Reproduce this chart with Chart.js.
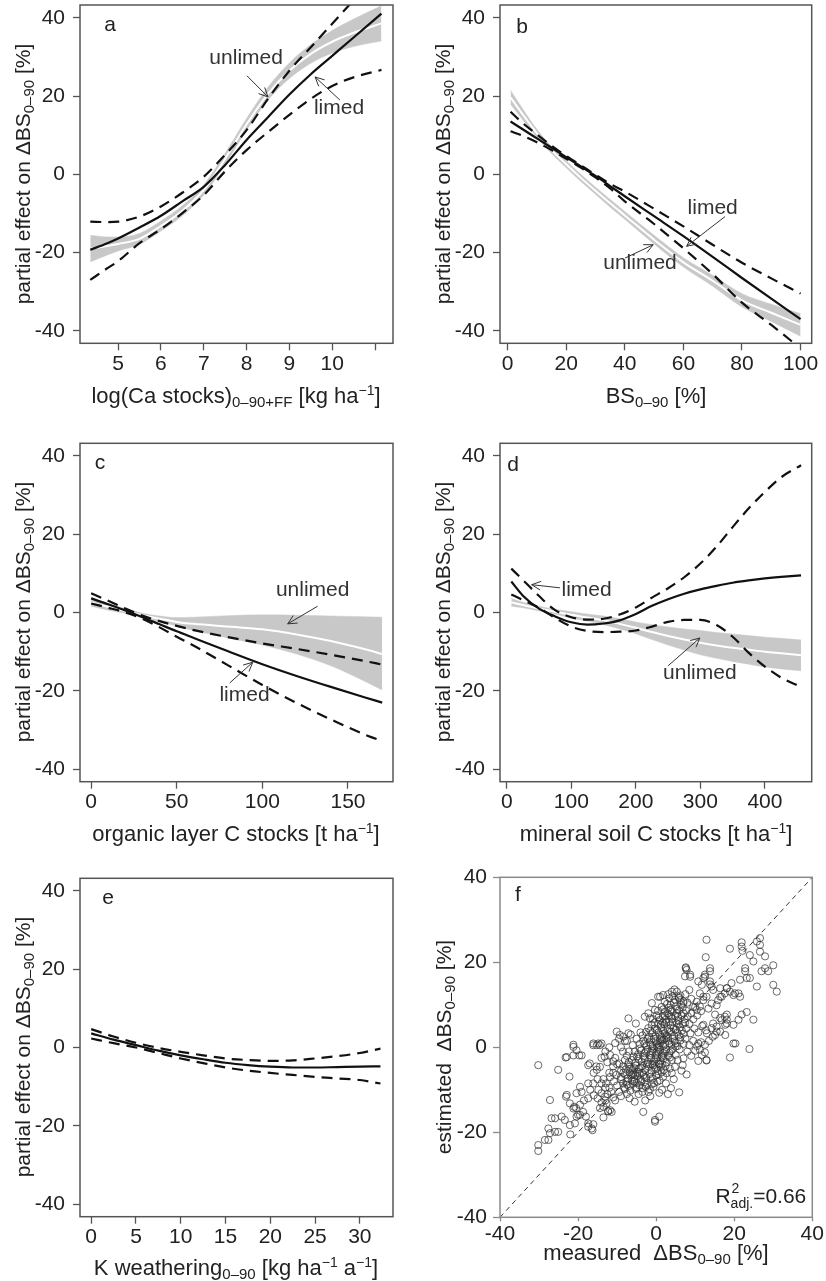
<!DOCTYPE html>
<html>
<head>
<meta charset="utf-8">
<script src="https://cdn.jsdelivr.net/npm/chart.js@4.4.0/dist/chart.umd.min.js"></script>
<style>
  body { margin: 0; background: #fff; }
  #fig { position: relative; width: 826px; height: 1281px; overflow: hidden; }
  canvas { position: absolute; }
  .t { position: absolute; font: 21px 'Liberation Sans', Arial, sans-serif; color: #222; white-space: nowrap; line-height: 1; transform: translate(-50%, -50%); }
  .t.h { font-size: 22px; }
  .t.v { transform: translate(-50%, -50%) rotate(-90deg); }
  .t sub { font-size: 15px; vertical-align: -4px; line-height: 0; }
  .t sup { font-size: 14px; vertical-align: 8px; line-height: 0; }
</style>
</head>
<body>
<div id="fig">
  <canvas id="ca" width="420" height="420" style="left:0;top:0"></canvas>
  <canvas id="cb" width="406" height="420" style="left:420px;top:0"></canvas>
  <canvas id="cc" width="420" height="425" style="left:0;top:425px"></canvas>
  <canvas id="cd" width="406" height="425" style="left:420px;top:425px"></canvas>
  <canvas id="ce" width="420" height="426" style="left:0;top:855px"></canvas>
  <canvas id="cf" width="406" height="426" style="left:420px;top:855px"></canvas>

  <div class="t v" style="left:22px;top:174px">partial effect on ΔBS<sub>0–90</sub> [%]</div>
  <div class="t v" style="left:442px;top:174px">partial effect on ΔBS<sub>0–90</sub> [%]</div>
  <div class="t v" style="left:22px;top:612px">partial effect on ΔBS<sub>0–90</sub> [%]</div>
  <div class="t v" style="left:442px;top:612px">partial effect on ΔBS<sub>0–90</sub> [%]</div>
  <div class="t v" style="left:22px;top:1047px">partial effect on ΔBS<sub>0–90</sub> [%]</div>
  <div class="t v" style="left:443px;top:1047px">estimated &nbsp;ΔBS<sub>0–90</sub> [%]</div>

  <div class="t h" style="left:236px;top:396px">log(Ca stocks)<sub>0–90+FF</sub> [kg ha<sup>−1</sup>]</div>
  <div class="t h" style="left:656px;top:396px">BS<sub>0–90</sub> [%]</div>
  <div class="t h" style="left:236px;top:834px">organic layer C stocks [t ha<sup>−1</sup>]</div>
  <div class="t h" style="left:656px;top:834px">mineral soil C stocks [t ha<sup>−1</sup>]</div>
  <div class="t h" style="left:236px;top:1268px">K weathering<sub>0–90</sub> [kg ha<sup>−1</sup> a<sup>−1</sup>]</div>
  <div class="t h" style="left:656px;top:1253px">measured &nbsp;ΔBS<sub>0–90</sub> [%]</div>
</div>

<script>
const FONT = "'Liberation Sans', Arial, sans-serif";

const yTicks = [-40, -20, 0, 20, 40];
const yLabels = ['-40', '-20', '0', '20', '40'];

// a: log(Ca stocks)
const aX = [4.35, 4.75, 5.0, 5.5, 6.0, 6.5, 7.0, 7.5, 8.0, 8.5, 9.0, 9.5, 10.0, 10.5, 11.15];
const aLimedFit = [-19.3, -17.6, -16.4, -13.6, -10.6, -6.9, -3.2, 2.4, 8.8, 14.6, 20.4, 25.6, 30.3, 35.0, 41.1];
const aLimedUp = [-12.1, -12.2, -12.1, -10.8, -8.2, -4.7, -0.6, 5.0, 11.3, 19.3, 26.5, 32.5, 38.5, 44.5, 52.0];
const aLimedLo = [-27.0, -24.0, -22.2, -17.6, -14.0, -9.9, -5.3, 0.8, 6.2, 10.8, 15.2, 19.3, 22.6, 24.8, 26.7];
const aUnlimedFit = [-19.0, -18.3, -17.8, -16.5, -13.2, -9.3, -4.0, 4.0, 12.8, 20.6, 26.5, 30.8, 33.9, 36.2, 38.6];
const aUnlimedUp = [-15.6, -16.0, -16.0, -15.1, -11.9, -8.0, -2.7, 5.4, 14.3, 22.3, 28.5, 33.2, 36.8, 39.7, 43.1];
const aUnlimedLo = [-22.4, -20.6, -19.6, -17.9, -14.5, -10.6, -5.3, 2.6, 11.3, 19.0, 24.5, 28.4, 31.0, 32.7, 34.1];
const aTicks = [5, 6, 7, 8, 9, 10, 11];
const aLabels = ['5', '6', '7', '8', '9', '10', ''];

// b: BS 0-90
const bX = [1, 5, 10, 15, 20, 25, 30, 35, 40, 50, 60, 70, 80, 90, 100];
const bLimedFit = [13.5, 11.6, 9.2, 6.8, 4.4, 2.0, -0.4, -3.0, -5.6, -10.7, -15.8, -21.1, -26.5, -31.8, -37.0];
const bLimedUp = [16.0, 13.2, 10.2, 7.3, 4.7, 2.3, -0.1, -2.4, -4.4, -8.8, -13.3, -18.0, -22.6, -26.6, -30.5];
const bLimedLo = [11.0, 9.9, 8.2, 6.2, 4.0, 1.7, -0.8, -3.6, -6.9, -12.7, -18.9, -25.5, -32.8, -38.5, -44.5];
const bUnlimedFit = [19.7, 15.5, 10.5, 6.2, 2.6, -0.9, -4.2, -7.4, -10.5, -16.7, -22.5, -27.2, -32.2, -35.4, -38.5];
const bUnlimedUp = [21.5, 16.9, 11.5, 7.1, 3.5, 0.0, -3.3, -6.4, -9.5, -15.6, -21.3, -25.8, -30.5, -33.2, -35.6];
const bUnlimedLo = [17.9, 14.1, 9.5, 5.3, 1.7, -1.8, -5.1, -8.4, -11.5, -17.8, -23.7, -28.6, -33.9, -37.6, -41.4];
const bTicks = [0, 20, 40, 60, 80, 100];
const bLabels = ['0', '20', '40', '60', '80', '100'];

// c: organic layer C stocks
const cX = [0, 10, 20, 30, 40, 50, 60, 80, 100, 120, 140, 160, 170];
const cLimedFit = [3.6, 2.1, 0.5, -1.2, -3.0, -4.8, -6.5, -9.9, -13.2, -16.2, -19.0, -21.7, -23.0];
const cLimedUp = [4.9, 3.0, 1.0, -0.8, -2.2, -3.4, -4.5, -6.3, -7.9, -9.3, -10.8, -12.4, -13.3];
const cLimedLo = [2.3, 1.2, 0.0, -1.6, -3.8, -6.2, -8.5, -13.5, -18.5, -23.1, -27.3, -31.2, -32.8];
const cUnlimedFit = [2.6, 1.4, 0.4, -0.7, -1.6, -2.4, -2.9, -3.6, -4.3, -5.6, -7.3, -9.4, -10.6];
const cUnlimedUp = [3.6, 2.2, 1.0, -0.2, -0.9, -1.3, -1.2, -0.8, -0.6, -0.7, -0.9, -1.1, -1.2];
const cUnlimedLo = [1.6, 0.6, -0.2, -1.2, -2.3, -3.5, -4.6, -6.5, -8.3, -10.6, -13.6, -17.6, -19.8];
const cTicks = [0, 50, 100, 150];
const cLabels = ['0', '50', '100', '150'];

// d: mineral soil C stocks
const dX = [7, 25, 50, 75, 100, 125, 150, 175, 200, 225, 250, 275, 300, 325, 350, 375, 400, 425, 456];
const dLimedFit = [7.9, 4.3, 1.0, -1.0, -2.5, -3.1, -2.8, -2.0, -0.4, 1.7, 3.4, 4.8, 5.9, 6.8, 7.6, 8.2, 8.7, 9.1, 9.5];
const dLimedUp = [11.2, 8.3, 4.2, 0.6, -1.2, -1.8, -1.6, -0.5, 1.3, 3.8, 6.2, 9.0, 12.5, 16.8, 21.8, 26.6, 30.8, 34.5, 37.6];
const dLimedLo = [4.6, 3.2, 1.2, -1.4, -3.6, -4.7, -5.0, -4.9, -4.6, -3.6, -2.4, -1.9, -1.9, -3.2, -6.2, -10.3, -13.8, -16.6, -19.0];
const dUnlimedFit = [2.6, 1.9, 1.0, 0.2, -0.6, -1.3, -2.0, -2.9, -3.9, -5.0, -6.0, -6.9, -7.7, -8.4, -9.0, -9.5, -10.0, -10.4, -10.9];
const dUnlimedUp = [3.6, 2.6, 1.6, 0.8, 0.2, -0.4, -0.9, -1.6, -2.4, -3.1, -3.7, -4.2, -4.6, -5.1, -5.5, -5.9, -6.3, -6.6, -7.0];
const dUnlimedLo = [1.6, 1.2, 0.4, -0.4, -1.4, -2.2, -3.1, -4.2, -5.4, -6.9, -8.3, -9.6, -10.8, -11.7, -12.5, -13.2, -13.9, -14.4, -14.9];
const dTicks = [0, 100, 200, 300, 400];
const dLabels = ['0', '100', '200', '300', '400'];

// e: K weathering
const eX = [0, 2.5, 5, 7.5, 10, 12.5, 15, 17.5, 20, 22.5, 25, 27.5, 30, 32.3];
const eFit = [3.6, 2.0, 0.6, -0.8, -2.0, -3.0, -3.9, -4.5, -4.9, -5.1, -5.1, -5.0, -4.9, -4.8];
const eUp = [4.7, 2.8, 1.2, -0.1, -1.1, -2.0, -2.8, -3.2, -3.4, -3.3, -2.8, -2.2, -1.4, -0.3];
const eLo = [2.3, 1.1, 0.0, -1.4, -2.8, -4.0, -5.1, -5.9, -6.5, -7.0, -7.5, -7.9, -8.3, -9.2];
const eTicks = [0, 5, 10, 15, 20, 25, 30];
const eLabels = ['0', '5', '10', '15', '20', '25', '30'];

// f: measured vs. estimated ΔBS0-90 (measured, estimated)
const fObs = [
  [-30.2,-4.2],[-30.2,-23.0],[-30.2,-24.4],[-28.5,-21.8],[-27.6,-21.8],[-27.6,-19.1],[-27.2,-20.2],[-27.2,-12.4],
  [-26.8,-16.7],[-25.9,-16.7],[-25.9,-19.9],[-25.1,-19.9],[-25.1,-5.3],[-24.2,-16.3],[-23.4,-17.1],[-23.2,-2.4],
  [-22.9,-2.3],[-22.9,-11.2],[-22.2,-6.9],[-22.1,-13.2],[-22.1,-18.3],[-22.0,-20.5],[-21.2,0.1],[-21.2,-1.9],
  [-21.2,-14.4],[-21.0,-14.0],[-20.8,-17.9],[-20.4,-0.7],[-20.4,-10.8],[-20.4,-16.3],[-20.0,-15.9],[-19.7,-1.9],
  [-19.5,-9.3],[-19.5,-15.9],[-19.1,-1.9],[-19.1,-10.5],[-18.7,-15.2],[-18.0,-16.3],[-17.4,-4.2],[-17.4,-8.5],
  [-17.4,-12.0],[-17.4,-17.9],[-17.4,-18.7],[-17.0,-3.8],[-16.9,-10.0],[-16.5,-19.1],[-16.3,-19.5],[-16.1,0.5],
  [-16.1,-8.5],[-16.1,-18.1],[-15.3,-4.5],[-15.2,0.5],[-15.2,-5.3],[-14.8,-10.0],[-14.4,0.5],[-14.4,-4.6],
  [-14.4,-14.3],[-14.0,-10.8],[-13.5,-14.0],[-13.1,-11.6],[-12.7,-13.2],[-12.3,-15.1],[-11.8,-14.8],[-11.4,-15.2],
  [-23.1,-11.6],[-20.5,-14.3],[-18.5,-12.5],[-19.5,-13.5],[-16.0,-6.0],[-15.0,-7.5],[-14.0,-8.5],[-13.0,-9.5],
  [-16.0,-11.3],[-15.0,-12.0],[-14.0,-13.0],[-13.5,-16.5],[-12.3,-15.0],
  [-14.0,-2.5],[-13.2,-2.2],[-13.0,-1.0],[-12.5,-3.5],[-12.0,0.0],[-12.0,-6.0],[-11.8,-1.8],[-11.8,-7.0],
  [-11.0,-3.3],[-11.0,-4.5],[-11.0,-6.0],[-11.5,-10.5],[-12.0,-9.5],[-12.8,-8.5],[-13.5,-7.5],[-11.0,-11.8],
  [-10.5,-12.5],[-12.5,-11.0],[-13.0,-12.5],[-10.8,-8.0],[-10.5,-2.5],[-10.5,1.0],[-10.2,-6.5],[-10.0,-4.0],
  [-10.0,-9.0],[-9.5,2.0],[-9.5,-3.8],[-9.5,-10.5],[-9.0,0.0],[-9.0,-5.5],[-9.0,-7.5],[-9.0,-11.5],
  [-8.5,-1.0],[-8.5,-4.5],[-8.5,-8.5],[-8.0,1.5],[-8.0,-3.0],[-8.0,-9.8],[-7.5,1.5],[-7.5,-2.0],
  [-7.5,-11.0],[-7.0,-1.0],[-7.0,-3.5],[-6.8,-12.0],[-6.5,3.0],[-6.5,-5.0],[-6.0,0.5],[-6.0,-6.5],
  [-5.8,-2.2],[-5.5,-8.0],[-5.5,-12.8],[-5.0,2.0],[-5.0,-9.5],[-4.5,-11.0],[-4.0,3.5],[-3.5,-10.5],
  [-2.8,-12.5],[-1.5,-11.5],
  [0.5,11.9],[-1.1,10.4],[-0.3,8.8],[-2.0,8.0],[-2.9,7.2],[-1.6,6.8],[-7.1,6.8],[-5.2,5.6],
  [-10.1,3.7],[-9.3,2.9],[-8.4,2.5],[-7.1,3.3],[-16.1,0.9],[-14.8,0.9],[-14.0,0.9],[-21.2,0.6],
  [-3.3,-15.2],[-0.3,-17.1],[-0.3,-17.5],[0.8,-16.3],[0.8,-10.7],[-0.7,-9.3],[3.8,-9.6],[5.9,-10.6],
  [2.7,-6.1],[4.0,-6.1],[4.8,-4.6],[6.8,-4.2],[7.8,-6.4],
  [-8.2,-9.5],[-7.0,-9.1],[-6.0,-8.6],[-5.2,-9.8],[-4.3,-8.9],[-3.5,-9.6],[-2.4,-8.8],[-1.6,-9.9],
  [-0.5,-8.4],[-7.6,-8.1],[-3.0,-8.2],[-6.6,-10.2],[-2.0,-10.5],
  [-9.0,-7.0],[-8.0,-6.4],[-7.2,-7.3],[-6.4,-6.6],[-5.6,-7.5],[-4.8,-6.8],[-4.0,-7.6],[-3.2,-6.5],
  [-2.5,-7.2],[-1.7,-6.3],[-0.9,-7.4],[0.0,-6.6],[0.9,-7.8],[1.8,-6.9],[-5.8,-6.1],[-3.6,-6.0],
  [-7.8,-5.2],[-6.9,-4.6],[-6.0,-5.4],[-5.2,-4.3],[-4.4,-5.1],[-3.6,-4.4],[-2.8,-5.3],[-2.0,-4.5],
  [-1.2,-5.5],[-0.4,-4.7],[0.4,-5.6],[1.2,-4.6],[2.0,-5.3],[-4.8,-5.8],[-1.6,-4.0],[0.8,-4.0],
  [-6.2,-3.0],[-5.3,-3.6],[-4.5,-2.7],[-3.7,-3.4],[-2.9,-2.6],[-2.1,-3.5],[-1.3,-2.5],[-0.5,-3.3],
  [0.3,-2.4],[1.1,-3.2],[1.9,-2.6],[2.7,-3.5],[3.5,-2.4],[-1.0,-3.9],[0.6,-3.8],
  [-5.5,-1.0],[-4.6,-1.6],[-3.8,-0.7],[-3.0,-1.4],[-2.2,-0.5],[-1.4,-1.3],[-0.6,-0.4],[0.2,-1.5],
  [1.0,-0.6],[1.8,-1.4],[2.6,-0.5],[3.4,-1.3],[4.2,-0.4],[-0.2,-1.9],[0.6,-0.1],[1.4,-1.9],
  [-4.2,0.8],[-3.3,1.5],[-2.5,0.4],[-1.7,1.2],[-0.9,0.3],[-0.1,1.4],[0.7,0.5],[1.5,1.6],
  [2.3,0.7],[3.1,1.5],[3.9,0.6],[4.7,1.4],[5.5,0.3],[0.3,0.1],[1.1,1.0],[-1.3,1.8],[2.0,1.9],
  [-3.5,2.8],[-2.6,3.6],[-1.8,2.5],[-1.0,3.4],[-0.2,2.6],[0.6,3.5],[1.4,2.4],[2.2,3.3],
  [3.0,2.5],[3.8,3.6],[4.6,2.7],[5.4,3.5],[6.2,2.4],[1.0,2.9],[2.6,2.1],
  [-2.0,4.5],[-1.1,5.3],[-0.3,4.4],[0.5,5.5],[1.3,4.6],[2.1,5.4],[2.9,4.3],[3.7,5.2],
  [4.5,4.5],[5.3,5.6],[6.1,4.7],[6.9,5.5],[7.7,4.4],[1.7,5.9],[3.3,6.0],
  [-0.8,6.6],[0.1,7.5],[0.9,6.4],[1.7,7.3],[2.5,6.5],[3.3,7.6],[4.1,6.7],[4.9,7.4],
  [5.7,6.3],[6.5,7.5],[7.3,6.6],[8.1,7.3],[2.9,8.0],[5.3,8.0],
  [0.5,8.6],[1.4,9.5],[2.3,8.4],[3.2,9.3],[4.1,8.5],[5.0,9.6],[5.9,8.7],[6.8,9.4],[7.7,8.6],[3.7,10.0],
  [2.2,10.7],[3.4,11.5],[4.6,10.6],[5.8,11.6],[7.0,10.8],[6.2,12.2],[4.2,12.0],
  [-7.4,-8.8],[-6.2,-7.9],[-5.0,-8.4],[-3.8,-8.0],[-2.7,-9.3],[-1.1,-8.7],[0.3,-8.1],
  [-8.4,-6.0],[-6.8,-5.9],[-5.4,-6.6],[-4.2,-6.2],[-2.9,-7.0],[-1.4,-6.9],[0.6,-6.3],[1.4,-5.9],
  [-7.2,-4.0],[-5.6,-4.9],[-4.0,-4.8],[-2.4,-3.9],[-0.8,-4.2],[0.0,-5.1],[1.6,-4.0],[2.4,-4.4],
  [-4.9,-2.2],[-3.3,-2.1],[-1.7,-1.8],[-0.1,-2.8],[1.5,-2.2],[3.1,-2.0],[4.0,-3.0],
  [-4.2,-0.3],[-2.6,-1.0],[-1.0,-0.9],[0.6,-1.1],[2.2,-1.0],[3.8,-0.9],[5.0,0.2],
  [-3.0,0.9],[-1.4,0.6],[0.2,0.8],[1.8,0.3],[3.4,0.9],[5.0,1.0],[6.2,1.6],
  [-2.2,2.0],[-0.6,2.0],[1.0,1.8],[2.6,2.8],[4.2,2.0],[5.8,2.8],[7.0,3.2],
  [-1.5,3.9],[0.2,4.0],[1.8,3.9],[3.4,3.8],[5.0,4.1],[6.6,3.9],
  [-0.4,5.8],[1.2,5.3],[2.6,5.8],[4.2,5.9],[5.8,5.4],[7.4,5.8],
  [0.6,7.0],[2.2,7.5],[3.8,7.2],[5.6,7.2],[7.0,8.0],
  [1.8,8.9],[3.7,8.8],[5.4,9.0],[6.4,10.0],[2.8,10.2],[4.8,11.2],
  [7.5,2.0],[8.5,0.5],[9.5,1.5],[10.5,0.3],[11.5,1.2],[12.5,0.6],[8.0,-1.0],[9.0,-2.0],
  [10.0,-0.8],[7.0,-2.6],[8.8,3.3],[9.8,4.4],[10.8,3.5],[11.8,5.0],[12.8,4.0],[8.5,5.5],
  [9.5,6.6],[10.5,7.5],[11.5,8.5],[9.0,8.0],[10.0,9.5],[8.0,10.5],[9.0,11.4],[7.5,12.5],
  [8.5,13.5],[13.5,1.5],[14.5,2.5],[6.5,-5.5],[5.5,-3.0],[3.5,-5.0],[4.5,-7.5],[2.5,-8.5],
  [3.0,-11.0],[1.5,-10.0],[5.0,-1.8],[6.0,-0.5],[7.0,0.8],
  [10.8,-3.2],[12.9,-3.1],[12.5,-1.2],[18.9,-2.4],[19.8,0.9],[23.9,-0.4],[20.3,0.9],[10.8,0.9],
  [11.2,-0.6],[11.7,-1.8],[12.9,-3.0],
  [12.9,25.3],[12.7,21.2],[18.9,23.2],[21.9,24.7],[21.9,23.7],[22.1,22.7],[26.6,25.7],[26.6,24.1],
  [25.8,24.9],[24.0,21.7],[26.6,22.5],[27.9,21.4],[24.9,20.2],[22.8,18.6],[22.8,17.9],[23.2,16.3],
  [21.5,15.9],[24.0,16.3],[27.0,17.9],[27.9,18.6],[30.0,19.3],[28.7,17.9],[30.0,14.7],[30.9,13.1],
  [25.8,14.3],[21.9,7.7],[23.2,8.3],[24.9,6.5],[13.8,18.6],[13.8,17.9],[7.6,18.8],[8.7,17.1],
  [7.4,16.7],[13.8,14.8],[13.8,15.5],[10.8,15.5],[12.1,16.3],[12.5,17.1],[16.4,13.9],[16.8,11.9],
  [18.1,13.9],[18.9,13.1],[19.8,12.3],[21.1,12.7],[18.1,7.7],[18.1,6.5],[17.7,5.3],[15.9,11.1],
  [15.5,9.9],[14.2,10.3],[13.4,9.1],[11.2,12.7],[12.1,11.9],[10.4,10.7],[9.5,9.5],[15.1,7.7],
  [16.4,6.9],[19.8,5.3],[21.1,6.5],[14.2,4.5],[15.5,3.7],[12.1,5.3],[13.0,3.3],[17.7,2.9],
  [1.0,11.9],[1.8,12.3],[3.1,12.5],[4.0,13.1],[4.7,13.6],[5.3,13.1],[5.7,11.9],[6.1,11.1],
  [7.0,10.4],[7.6,18.6],[7.8,18.2],[8.7,16.6],[11.7,14.7],[12.5,16.6],[14.2,14.3],[14.6,13.5],
  [12.9,11.9],[12.1,11.1],[11.2,9.6],[10.4,8.8],[16.4,11.9],[17.6,12.7],[18.1,13.9],[19.3,15.1],
  [20.2,12.7],[21.5,11.9],[14.6,5.6],[15.5,4.9],[16.4,3.7],[15.1,2.9],[16.8,6.4],[18.1,5.6],[17.6,7.2]
];
const fLine = [-40, 40];
const fTicks = [-40, -20, 0, 20, 40];
const fLabels = ['-40', '-20', '0', '20', '40'];

// ---- помощники ----
function curve(xs, ys) {
    return xs.map((x, i) => ({x: x, y: ys[i]}));
}

function axis(pos, min, max, ticks, labels, size, col, tl, pad) {
    return {
        type: 'linear', position: pos, min: min, max: max,
        afterBuildTicks: s => { s.ticks = ticks.map(v => ({value: v})); },
        afterFit: s => {
            if (pos === 'left') s.width = size; else s.height = size;
            // рамка задаётся вручную — отступы под подписи не нужны
            s.paddingTop = 0; s.paddingBottom = 0; s.paddingLeft = 0; s.paddingRight = 0;
        },
        grid: {display: true, drawOnChartArea: false, drawTicks: true, tickLength: tl, tickColor: col, tickWidth: 1.3, color: col},
        border: {display: false},
        ticks: {autoSkip: false, maxRotation: 0, padding: pad, color: '#222', font: {family: FONT, size: 21},
                callback: (v, i) => labels[i]}
    };
}

function arrow(ctx, x1, y1, x2, y2) {
    const a = Math.atan2(y2 - y1, x2 - x1), h = 10;
    ctx.beginPath();
    ctx.moveTo(x1, y1); ctx.lineTo(x2, y2);
    ctx.moveTo(x2 - h * Math.cos(a - 0.45), y2 - h * Math.sin(a - 0.45));
    ctx.lineTo(x2, y2);
    ctx.lineTo(x2 - h * Math.cos(a + 0.45), y2 - h * Math.sin(a + 0.45));
    ctx.stroke();
}

function decor(cfg) {
    return {
        id: 'decor',
        afterDatasetsDraw(chart) {
            const ctx = chart.ctx, a = chart.chartArea, sx = chart.scales.x, sy = chart.scales.y;
            ctx.save();
            ctx.strokeStyle = cfg.boxColor; ctx.lineWidth = 1.5;
            ctx.strokeRect(a.left, a.top, a.right - a.left, a.bottom - a.top);
            ctx.fillStyle = '#222'; ctx.font = '21px ' + FONT;
            ctx.textAlign = 'center'; ctx.textBaseline = 'middle';
            ctx.fillText(cfg.letter, a.left + cfg.letterAt[0], a.top + cfg.letterAt[1]);
            ctx.fillStyle = '#333';
            (cfg.notes || []).forEach(n => ctx.fillText(n.text, sx.getPixelForValue(n.x), sy.getPixelForValue(n.y)));
            ctx.strokeStyle = '#333'; ctx.lineWidth = 1;
            (cfg.arrows || []).forEach(r => arrow(ctx, sx.getPixelForValue(r[0]), sy.getPixelForValue(r[1]),
                                                  sx.getPixelForValue(r[2]), sy.getPixelForValue(r[3])));
            if (cfg.r2) {
                const big = '21px ' + FONT, small = '14px ' + FONT;
                ctx.fillStyle = '#222'; ctx.textAlign = 'left'; ctx.textBaseline = 'alphabetic';
                ctx.font = big;
                const wR = ctx.measureText('R').width, wE = ctx.measureText('=0.66').width;
                ctx.font = small;
                const wS = Math.max(ctx.measureText('2').width, ctx.measureText('adj.').width);
                const x0 = a.right - 6 - wR - wS - wE, base = a.bottom - 14;
                ctx.font = big; ctx.fillText('R', x0, base);
                ctx.font = small; ctx.fillText('2', x0 + wR + 1, base - 10); ctx.fillText('adj.', x0 + wR, base + 5);
                ctx.font = big; ctx.fillText('=0.66', x0 + wR + wS, base);
            }
            ctx.restore();
        }
    };
}

function lineSet(xs, ys, style) {
    return Object.assign({
        data: curve(xs, ys), pointRadius: 0, fill: false, tension: 0.4,
        cubicInterpolationMode: 'monotone', borderColor: '#111', borderWidth: 2.2
    }, style);
}

function modelSets(xs, limed, unlimed) {
    const sets = [];
    if (unlimed) {
        sets.push(lineSet(xs, unlimed[1], {fill: '+1', backgroundColor: '#c8c8c8', borderColor: '#c8c8c8', borderWidth: 0.5, order: 6}));
        sets.push(lineSet(xs, unlimed[2], {borderColor: '#c8c8c8', borderWidth: 0.5, order: 6}));
        sets.push(lineSet(xs, unlimed[0], {borderColor: '#ffffff', borderWidth: 2, order: 5}));
    }
    sets.push(lineSet(xs, limed[1], {borderDash: [11, 7], order: 2}));
    sets.push(lineSet(xs, limed[2], {borderDash: [11, 7], order: 2}));
    sets.push(lineSet(xs, limed[0], {order: 1}));
    return sets;
}

function panel(id, cfg) {
    const el = document.getElementById(id);
    return new Chart(el, {
        type: 'line',
        data: {datasets: cfg.datasets},
        options: {
            animation: false, responsive: false, events: [],
            layout: {padding: {top: cfg.top, right: cfg.right, left: 0, bottom: 0}},
            plugins: {legend: {display: false}, tooltip: {enabled: false}},
            scales: {
                x: axis('bottom', cfg.xMin, cfg.xMax, cfg.xTicks, cfg.xLabels, el.height - cfg.bottom,
                        cfg.boxColor, cfg.xTl || 7, cfg.xPad === undefined ? 1 : cfg.xPad),
                y: axis('left', cfg.yMin, cfg.yMax, cfg.yTicks || yTicks, cfg.yLabels || yLabels, 80,
                        cfg.boxColor, 7, cfg.yPad || 8)
            }
        },
        plugins: [decor(cfg)]
    });
}

// ---- панели ----
panel('ca', {
    datasets: modelSets(aX, [aLimedFit, aLimedUp, aLimedLo], [aUnlimedFit, aUnlimedUp, aUnlimedLo]),
    top: 5, right: 27, bottom: 343.3, xMin: 4.11, xMax: 11.42, yMin: -43.2, yMax: 43.3,
    xTicks: aTicks, xLabels: aLabels, boxColor: '#555', letter: 'a', letterAt: [30, 20],
    notes: [{text: 'unlimed', x: 7.99, y: 29.8}, {text: 'limed', x: 10.16, y: 17.0}],
    arrows: [[8.01, 25.2, 8.5, 19.8], [10.18, 19.0, 9.6, 24.9]]
});

panel('cb', {
    datasets: modelSets(bX, [bLimedFit, bLimedUp, bLimedLo], [bUnlimedFit, bUnlimedUp, bUnlimedLo]),
    top: 5, right: 14.3, bottom: 343.3, xMin: -2.6, xMax: 103.8, yMin: -43.2, yMax: 43.3,
    xTicks: bTicks, xLabels: bLabels, boxColor: '#555', letter: 'b', letterAt: [22, 22],
    notes: [{text: 'limed', x: 70, y: -8.6}, {text: 'unlimed', x: 45.2, y: -22.7}],
    arrows: [[74.2, -10.8, 61.1, -18.4], [40.1, -21.4, 49.7, -18.0]]
});

panel('cc', {
    datasets: modelSets(cX, [cLimedFit, cLimedUp, cLimedLo], [cUnlimedFit, cUnlimedUp, cUnlimedLo]),
    top: 18.3, right: 27, bottom: 356.7, xMin: -6.5, xMax: 176.3, yMin: -43.2, yMax: 43.2,
    xTicks: cTicks, xLabels: cLabels, boxColor: '#555', letter: 'c', letterAt: [20, 20],
    notes: [{text: 'unlimed', x: 129.4, y: 5.6}, {text: 'limed', x: 89.6, y: -21.2}],
    arrows: [[132.3, 1.6, 114.8, -2.9], [80.9, -18.0, 94.4, -12.7]]
});

panel('cd', {
    datasets: modelSets(dX, [dLimedFit, dLimedUp, dLimedLo], [dUnlimedFit, dUnlimedUp, dUnlimedLo]),
    top: 18.3, right: 14.3, bottom: 356.7, xMin: -10.5, xMax: 472.5, yMin: -43.2, yMax: 43.2,
    xTicks: dTicks, xLabels: dLabels, boxColor: '#555', letter: 'd', letterAt: [13, 22],
    notes: [{text: 'limed', x: 123.7, y: 5.8}, {text: 'unlimed', x: 299.2, y: -15.4}],
    arrows: [[82.4, 6.3, 38.6, 7.1], [250, -13.6, 299.2, -6.5]]
});

panel('ce', {
    datasets: modelSets(eX, [eFit, eUp, eLo], null),
    top: 23.3, right: 27, bottom: 361.7, xMin: -1.25, xMax: 33.7, yMin: -43.2, yMax: 43.2,
    xTicks: eTicks, xLabels: eLabels, boxColor: '#555', letter: 'e', letterAt: [28, 20]
});

panel('cf', {
    datasets: [
        {data: fObs.map(p => ({x: p[0], y: p[1]})), showLine: false, pointRadius: 3.6,
         pointBorderColor: 'rgba(50,50,50,0.72)', pointBackgroundColor: 'rgba(0,0,0,0)', pointBorderWidth: 1, order: 2},
        {data: curve(fLine, fLine), pointRadius: 0, borderColor: '#333', borderWidth: 1, borderDash: [5, 4], order: 1}
    ],
    top: 22.3, right: 13.7, bottom: 362.3, xMin: -40, xMax: 40, yMin: -40, yMax: 40,
    xTicks: fTicks, xLabels: fLabels, yTicks: fTicks, yLabels: fLabels, boxColor: '#8a8a8a',
    xTl: 4, xPad: 0, yPad: 6, letter: 'f', letterAt: [18, 18], r2: true
});
</script>
</body>
</html>
